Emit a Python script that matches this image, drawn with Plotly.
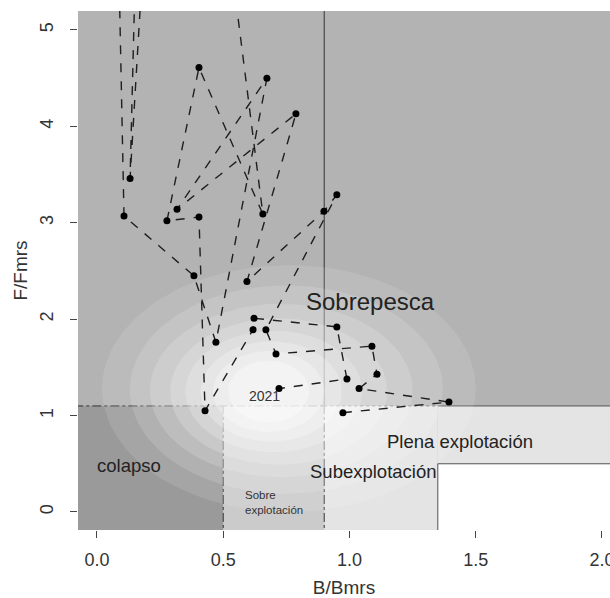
import numpy as np
import plotly.graph_objects as go

# ---------------- data ----------------
# Trajectory B/Bmrs, F/Fmrs (ordered, last point = 2021); some early values are off-chart (>5.2)
traj_B = [0.974, 1.394, 1.038, 1.109, 1.089, 0.709, 0.669, 0.950, 0.899, 0.594,
          0.788, 0.317, 0.673, 0.471, 0.384, 0.107, 0.080, 0.200, 0.131, 0.170,
          0.420, 0.657, 0.404, 0.277, 0.404, 0.428, 0.618, 0.622, 0.950, 0.990,
          0.721]
traj_F = [1.03, 1.14, 1.28, 1.43, 1.72, 1.64, 1.89, 3.29, 3.12, 2.39,
          4.13, 3.14, 4.50, 1.76, 2.45, 3.07, 6.50, 6.50, 3.46, 7.50,
          8.00, 3.09, 4.61, 3.02, 3.06, 1.05, 1.89, 2.01, 1.92, 1.38,
          1.28]
last_year = "2021"

# Reference points (limits)
B_lim = 0.5
B_rms = 0.9
F_lim = 1.1
B_hi = 1.35
F_lo = 0.5

# Uncertainty cloud summarised as nested ellipses: centre B, centre F, half-width B, half-width F, opacity
cloud_cB = [0.76, 0.75, 0.73, 0.72, 0.70, 0.69, 0.68, 0.68]
cloud_cF = [1.28, 1.27, 1.26, 1.25, 1.25, 1.25, 1.25, 1.25]
cloud_aB = [0.74, 0.62, 0.52, 0.43, 0.35, 0.28, 0.22, 0.16]
cloud_aF = [1.28, 1.08, 0.90, 0.76, 0.63, 0.52, 0.42, 0.32]
cloud_op = [0.11, 0.14, 0.16, 0.19, 0.21, 0.25, 0.30, 0.35]

# Zone labels
zone_text = ["Sobrepesca", "colapso", "Plena explotación", "Subexplotación"]
zone_B = [1.085, 0.127, 1.438, 1.097]
zone_F = [2.18, 0.477, 0.726, 0.425]
zone_size = [24, 18.5, 18.5, 18.5]
small_text = "Sobre<br>explotación"
small_B = 0.578
small_F = 0.10

x_ticks = [0, 0.5, 1, 1.5, 2]
x_ticktext = ["0.0", "0.5", "1.0", "1.5", "2.0"]
y_ticks = [0, 1, 2, 3, 4, 5]

XR = [-0.0752, 2.032]
YR = [-0.187, 5.197]

FONT = "Liberation Sans, Arial, sans-serif"

fig = go.Figure()

# ---------------- zones (shapes below traces) ----------------
BIG = 10
zones = [
    (-BIG, B_lim, -BIG, F_lim, "#9a9a9a"),
    (B_lim, B_rms, -BIG, F_lim, "#cbcbcb"),
    (B_rms, B_hi, -BIG, F_lim, "#e4e4e4"),
    (B_hi, BIG, F_lo, F_lim, "#e4e4e4"),
    (B_hi, BIG, -BIG, F_lo, "#ffffff"),
]
for x0, x1, y0, y1, col in zones:
    fig.add_shape(type="rect", xref="x", yref="y", x0=x0, x1=x1, y0=y0, y1=y1,
                  fillcolor=col, line_width=0, layer="below")

lines = [
    (-BIG, B_rms, F_lim, F_lim, "#333333", "dashdot"),
    (B_rms, B_hi, F_lim, F_lim, "#666666", "dot"),
    (B_hi, BIG, F_lim, F_lim, "#555555", "solid"),
    (B_rms, B_rms, F_lim, BIG, "#333333", "solid"),
    (B_rms, B_rms, -BIG, F_lim, "#333333", "dashdot"),
    (B_lim, B_lim, -BIG, F_lim, "#333333", "dashdot"),
    (B_hi, B_hi, -BIG, F_lo, "#555555", "solid"),
    (B_hi, BIG, F_lo, F_lo, "#555555", "solid"),
]
for x0, x1, y0, y1, col, dash in lines:
    fig.add_shape(type="line", xref="x", yref="y", x0=x0, x1=x1, y0=y0, y1=y1,
                  line=dict(color=col, width=1, dash=dash), layer="below")

# ---------------- cloud ----------------
t = np.linspace(0, 2 * np.pi, 120)
for cB, cF, aB, aF, op in zip(cloud_cB, cloud_cF, cloud_aB, cloud_aF, cloud_op):
    fig.add_trace(go.Scatter(x=cB + aB * np.cos(t), y=cF + aF * np.sin(t),
                             mode="lines", fill="toself", line=dict(width=0),
                             fillcolor=f"rgba(255,255,255,{op})", hoverinfo="skip",
                             showlegend=False))

# ---------------- trajectory ----------------
fig.add_trace(go.Scatter(x=traj_B, y=traj_F, mode="lines+markers",
                         line=dict(color="#1f1f1f", width=1.4, dash="dash"),
                         marker=dict(color="#000000", size=7),
                         showlegend=False))

# ---------------- labels ----------------
for txt, bx, fy, sz in zip(zone_text, zone_B, zone_F, zone_size):
    fig.add_annotation(x=bx, y=fy, text=txt, showarrow=False,
                       font=dict(family=FONT, size=sz, color="#222222"))
fig.add_annotation(x=small_B, y=small_F, text=small_text, showarrow=False,
                   xanchor="left", align="left",
                   font=dict(family=FONT, size=11.5, color="#333333"))
fig.add_annotation(x=traj_B[-1], y=traj_F[-1], text=last_year, showarrow=False,
                   xanchor="right", yanchor="middle", xshift=3, yshift=-7,
                   font=dict(family=FONT, size=14, color="#333333"))

fig.update_layout(
    width=610, height=598,
    margin=dict(l=78, r=0, t=11, b=68),
    paper_bgcolor="white", plot_bgcolor="#b3b3b3",
    showlegend=False,
    font=dict(family=FONT, color="#333333"),
    xaxis=dict(range=XR, tickvals=x_ticks, ticktext=x_ticktext, showgrid=False,
               zeroline=False, showline=False, ticks="outside", ticklen=7,
               automargin=False, ticklabeloverflow="allow", ticklabelstandoff=6,
               tickcolor="#444444", tickfont=dict(size=18, color="#333333"),
               title=dict(text="B/Bmrs", font=dict(size=19, color="#333333"), standoff=20)),
    yaxis=dict(range=YR, tickvals=y_ticks, showgrid=False, zeroline=False,
               showline=False, ticks="outside", ticklen=7, tickangle=-90,
               automargin=False, ticklabelstandoff=10,
               tickcolor="#444444", tickfont=dict(size=18, color="#333333"),
               title=dict(text="F/Fmrs", font=dict(size=19, color="#333333"), standoff=4)),
)

# remove the default page margin so the 610x598 figure fills the window exactly
fig.write_html("out.html",
               config={"displayModeBar": False},
               post_script="document.body.style.margin='0px';document.body.style.overflow='hidden';")
